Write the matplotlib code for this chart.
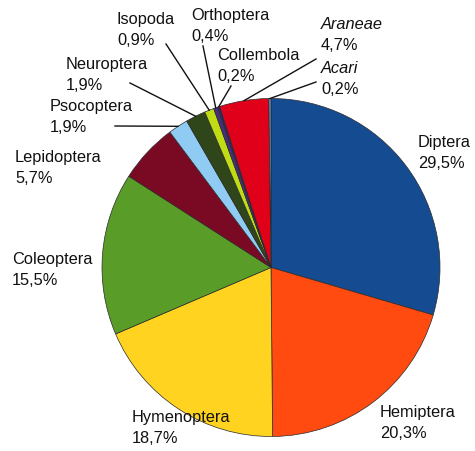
import numpy as np
import matplotlib
matplotlib.use("Agg")
import matplotlib.pyplot as plt

plt.rcParams['font.family'] = ['Liberation Sans', 'DejaVu Sans']

categories = ["Diptera", "Hemiptera", "Hymenoptera", "Coleoptera", "Lepidoptera",
              "Psocoptera", "Neuroptera", "Isopoda", "Orthoptera", "Collembola",
              "Araneae", "Acari"]
values = [29.5, 20.3, 18.7, 15.5, 5.7, 1.9, 1.9, 0.9, 0.4, 0.2, 4.7, 0.2]
value_labels = ["29,5%", "20,3%", "18,7%", "15,5%", "5,7%", "1,9%", "1,9%",
                "0,9%", "0,4%", "0,2%", "4,7%", "0,2%"]
colors = ["#154C91", "#FF4A10", "#FFD320", "#5A9C28", "#7A0A24", "#8FCBF2",
          "#2E4619", "#BFDC14", "#4A2E7E", "#2B2B6B", "#E0001A", "#5E9BD0"]
italic = {"Araneae", "Acari"}

W, H = 475, 451
fig = plt.figure(figsize=(W / 100, H / 100), dpi=100)
ax = fig.add_axes([0, 0, 1, 1])

cx, cy, R = 271, H - 267.5, 169
wedges, _ = ax.pie(values, colors=colors, startangle=90, counterclock=False,
                   center=(cx, cy), radius=R, frame=True,
                   wedgeprops=dict(edgecolor="#2a2a2a", linewidth=0.5))
ax.set_xlim(0, W)
ax.set_ylim(0, H)
ax.set_aspect('equal')
ax.axis('off')

# label layout (pixel positions, top-left of text) and optional leader start point
layout = {
    "Diptera":     ((418, 135), None),
    "Hemiptera":   ((380, 405), None),
    "Hymenoptera": ((132, 410), None),
    "Coleoptera":  ((12, 252), None),
    "Lepidoptera": ((15, 150), None),
    "Psocoptera":  ((50, 99), (115, 126)),
    "Neuroptera":  ((66, 57), (130, 83)),
    "Isopoda":     ((117, 12), (166, 44)),
    "Orthoptera":  ((191, 8), (203, 46)),
    "Collembola":  ((217, 48), (231, 86)),
    "Araneae":     ((321, 17), (316, 59)),
    "Acari":       ((321, 61), (316, 82)),
}

for w, name, vl in zip(wedges, categories, value_labels):
    (tx, ty), lead = layout[name]
    style = 'italic' if name in italic else 'normal'
    ax.text(tx, H - ty, name, fontsize=11.8, fontstyle=style, color="#111111",
            ha='left', va='top')
    ax.text(tx, H - ty - 21, vl, fontsize=11.8, color="#111111",
            ha='left', va='top')
    if lead is not None:
        mid = np.deg2rad((w.theta1 + w.theta2) / 2)
        ex = cx + R * np.cos(mid)
        ey = cy + R * np.sin(mid)
        ax.plot([lead[0], ex], [H - lead[1], ey], color="#111111", lw=1.0)

fig.savefig("out.png", dpi=100, facecolor="white")
